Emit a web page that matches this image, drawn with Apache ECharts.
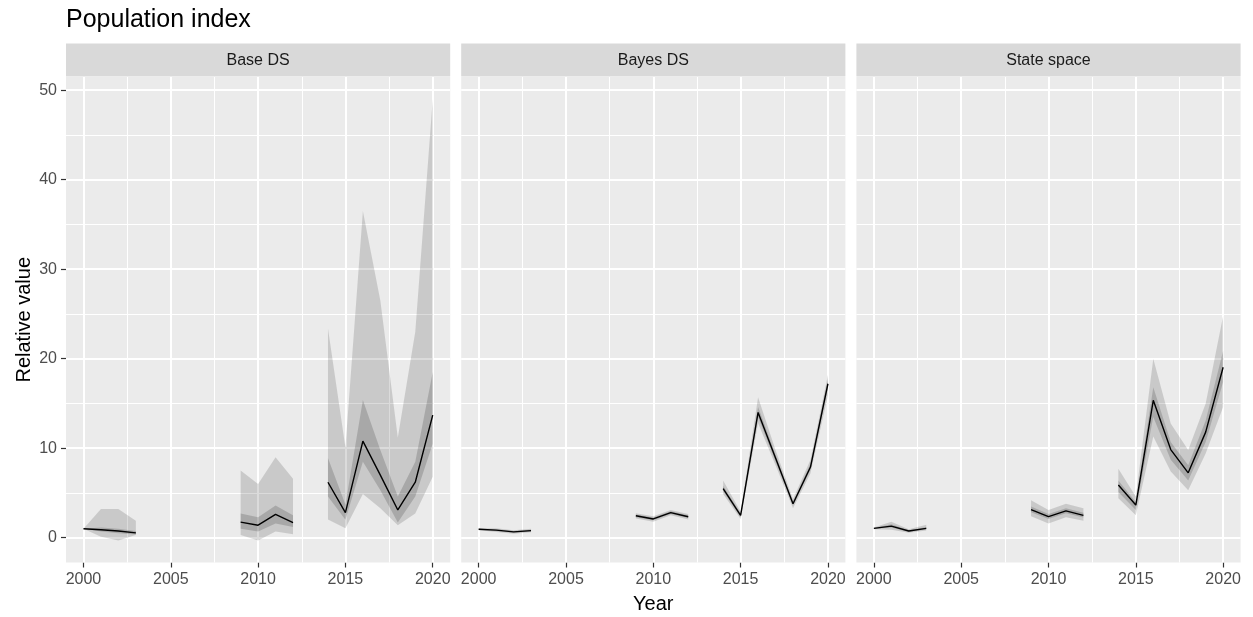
<!DOCTYPE html>
<html>
<head>
<meta charset="utf-8">
<script src="https://cdn.jsdelivr.net/npm/echarts@6/dist/echarts.min.js"></script>
<style>
  html, body { margin: 0; padding: 0; background: #ffffff; }
  #chart { width: 1253px; height: 617px; }
</style>
</head>
<body>
<div id="chart"></div>
<script>
// Survey years 2000-2020; null marks a year without estimates
const years = [2000, 2001, 2002, 2003, 2004, 2005, 2006, 2007, 2008, 2009, 2010,
               2011, 2012, 2013, 2014, 2015, 2016, 2017, 2018, 2019, 2020];
const panels = ['Base DS', 'Bayes DS', 'State space'];
const xTicks = [2000, 2005, 2010, 2015, 2020];
const xMinor = [2002.5, 2007.5, 2012.5, 2017.5];
const yTicks = [0, 10, 20, 30, 40, 50];
const yMinor = [5, 15, 25, 35, 45];

// Base DS: median, inner interval, outer interval
const baseMid   = [1.0, 0.9, 0.75, 0.55, null, null, null, null, null, 1.75, 1.4, 2.6, 1.7, null, 6.2, 2.8, 10.8, 7.0, 3.1, 6.2, 13.7];
const baseInLo  = [1.0, 0.7, 0.5, 0.35, null, null, null, null, null, 1.0, 0.7, 1.6, 1.2, null, 4.6, 2.0, 8.5, 5.3, 1.7, 4.6, 10.5];
const baseInHi  = [1.0, 1.15, 1.0, 0.75, null, null, null, null, null, 2.7, 2.3, 3.6, 2.5, null, 8.9, 3.7, 15.4, 9.8, 4.6, 8.5, 18.5];
const baseOutLo = [1.0, 0.1, -0.3, 0.3, null, null, null, null, null, 0.3, -0.3, 0.7, 0.4, null, 2.05, 1.05, 4.9, 3.3, 1.4, 2.7, 6.8];
const baseOutHi = [1.0, 3.2, 3.2, 1.9, null, null, null, null, null, 7.5, 6.0, 9.0, 6.6, null, 23.4, 10.1, 36.5, 26.5, 11.2, 23.0, 49.0];

// Bayes DS
const bayesMid   = [0.95, 0.85, 0.65, 0.8, null, null, null, null, null, 2.45, 2.1, 2.8, 2.35, null, 5.5, 2.5, 14.0, 8.9, 3.8, 7.9, 17.2];
const bayesInLo  = [0.9, 0.75, 0.55, 0.7, null, null, null, null, null, 2.3, 1.95, 2.65, 2.2, null, 5.2, 2.3, 13.5, 8.5, 3.6, 7.6, 16.7];
const bayesInHi  = [1.0, 0.95, 0.75, 0.9, null, null, null, null, null, 2.6, 2.25, 2.95, 2.5, null, 5.8, 2.7, 14.6, 9.3, 4.0, 8.3, 17.7];
const bayesOutLo = [0.85, 0.65, 0.45, 0.6, null, null, null, null, null, 2.15, 1.8, 2.5, 2.05, null, 4.9, 2.1, 12.8, 8.1, 3.3, 7.2, 15.9];
const bayesOutHi = [1.05, 1.05, 0.85, 1.0, null, null, null, null, null, 2.75, 2.4, 3.1, 2.65, null, 6.4, 2.9, 15.7, 9.8, 4.3, 8.7, 18.2];

// State space
const stateMid   = [1.05, 1.3, 0.75, 1.05, null, null, null, null, null, 3.15, 2.35, 3.0, 2.5, null, 5.9, 3.65, 15.35, 9.85, 7.25, 11.8, 19.05];
const stateInLo  = [1.0, 1.15, 0.65, 0.95, null, null, null, null, null, 2.85, 2.1, 2.75, 2.25, null, 5.1, 3.1, 13.5, 8.7, 6.4, 10.7, 17.4];
const stateInHi  = [1.1, 1.5, 0.85, 1.2, null, null, null, null, null, 3.5, 2.65, 3.3, 2.8, null, 6.4, 4.0, 16.8, 10.7, 8.1, 13.1, 20.9];
const stateOutLo = [0.95, 0.9, 0.55, 0.8, null, null, null, null, null, 2.4, 1.6, 2.3, 1.9, null, 4.4, 2.5, 11.3, 7.4, 5.3, 9.4, 14.6];
const stateOutHi = [1.15, 1.8, 0.95, 1.45, null, null, null, null, null, 4.2, 3.1, 3.8, 3.3, null, 7.7, 4.6, 20.0, 12.75, 9.8, 15.0, 24.8];

const panelData = [
  { mid: baseMid,  inLo: baseInLo,  inHi: baseInHi,  outLo: baseOutLo,  outHi: baseOutHi },
  { mid: bayesMid, inLo: bayesInLo, inHi: bayesInHi, outLo: bayesOutLo, outHi: bayesOutHi },
  { mid: stateMid, inLo: stateInLo, inHi: stateInHi, outLo: stateOutLo, outHi: stateOutHi }
];

const FONT = '"Liberation Sans", Arial, Helvetica, sans-serif';

// shared y range: data extent plus 5% on each side
const allLo = [].concat(baseOutLo, bayesOutLo, stateOutLo).filter(v => v != null);
const allHi = [].concat(baseOutHi, bayesOutHi, stateOutHi).filter(v => v != null);
const dMin = Math.min(...allLo), dMax = Math.max(...allHi);
const yMin = dMin - 0.05 * (dMax - dMin);
const yMax = dMax + 0.05 * (dMax - dMin);

// panel geometry
const gridLeft = [66, 461.2, 856.4];
const gridW = 384.2;
const gridTop = 77;
const gridH = 485.5;

const pairs = arr => years.map((y, i) => [y, arr[i] == null ? '-' : arr[i]]);

// Ribbon between lo and hi: one polygon per run of consecutive years
function bandSeries(p, lo, hi, fill, z) {
  return {
    type: 'custom', xAxisIndex: p, yAxisIndex: p, silent: true, z: z,
    animation: false,
    encode: { x: 0, y: [1, 2] },
    data: years.map((y, i) => [y, lo[i] == null ? '-' : lo[i], hi[i] == null ? '-' : hi[i]]),
    renderItem: function (params, api) {
      const i = params.dataIndex;
      if (lo[i] == null || (i > 0 && lo[i - 1] != null)) return null;
      const upper = [], lower = [];
      for (let k = i; k < years.length && lo[k] != null; k++) {
        upper.push(api.coord([years[k], hi[k]]));
        lower.push(api.coord([years[k], lo[k]]));
      }
      return {
        type: 'polygon',
        shape: { points: upper.concat(lower.reverse()) },
        style: { fill: fill, stroke: null }
      };
    }
  };
}

const grids = [], xAxes = [], yAxes = [], series = [];

panelData.forEach((d, p) => {
  grids.push({
    left: gridLeft[p], top: gridTop, width: gridW, height: gridH,
    show: true, backgroundColor: '#EBEBEB', borderWidth: 0,
    containLabel: false, outerBoundsMode: 'none'
  });

  const xa = {
    gridIndex: p, type: 'value', min: 1999, max: 2021,
    axisLine: { show: false, onZero: false },
    splitLine: { show: false },
    axisTick: { show: true, length: 5, customValues: xTicks, lineStyle: { color: '#333333', width: 1.2 } },
    axisLabel: { customValues: xTicks, color: '#4D4D4D', fontSize: 16, fontFamily: FONT, margin: 9,
                 formatter: v => String(v) }
  };
  if (p === 1) {
    xa.name = 'Year';
    xa.nameLocation = 'middle';
    xa.nameGap = 32;
    xa.nameTextStyle = { fontSize: 20, color: '#000000', fontFamily: FONT };
  }
  xAxes.push(xa);

  const ya = {
    gridIndex: p, type: 'value', min: yMin, max: yMax,
    axisLine: { show: false, onZero: false },
    splitLine: { show: false },
    axisTick: { show: p === 0, length: 5, customValues: yTicks, lineStyle: { color: '#333333', width: 1.2 } },
    axisLabel: { show: p === 0, customValues: yTicks, color: '#4D4D4D', fontSize: 16, fontFamily: FONT, margin: 9,
                 formatter: v => String(v) }
  };
  if (p === 0) {
    ya.name = 'Relative value';
    ya.nameLocation = 'middle';
    ya.nameGap = 32;
    ya.nameRotate = 90;
    ya.nameTextStyle = { fontSize: 20, color: '#000000', fontFamily: FONT };
  }
  yAxes.push(ya);

  series.push(bandSeries(p, d.outLo, d.outHi, 'rgba(0,0,0,0.14)', 2));
  series.push(bandSeries(p, d.inLo, d.inHi, 'rgba(0,0,0,0.16)', 3));

  // median line, carrying the panel grid lines beneath the ribbons
  const gl = [];
  xTicks.forEach(v => gl.push({ xAxis: v, lineStyle: { width: 2 } }));
  xMinor.forEach(v => gl.push({ xAxis: v, lineStyle: { width: 1 } }));
  yTicks.forEach(v => gl.push({ yAxis: v, lineStyle: { width: 2 } }));
  yMinor.forEach(v => gl.push({ yAxis: v, lineStyle: { width: 1 } }));
  series.push({
    type: 'line', xAxisIndex: p, yAxisIndex: p, symbol: 'none', showSymbol: false,
    silent: true, animation: false, connectNulls: false,
    data: pairs(d.mid),
    lineStyle: { color: '#000000', width: 1.4 }, z: 4,
    markLine: {
      silent: true, animation: false, z: 1,
      symbol: ['none', 'none'],
      label: { show: false },
      emphasis: { disabled: true },
      lineStyle: { color: '#FFFFFF', type: 'solid' },
      data: gl
    }
  });
});

// facet strips
const graphic = panels.map((name, p) => ({
  type: 'group', left: gridLeft[p], top: 43.5, silent: true,
  children: [
    { type: 'rect', shape: { x: 0, y: 0, width: gridW, height: 33 }, style: { fill: '#D9D9D9' } },
    { type: 'text', x: gridW / 2, y: 17,
      style: { text: name, fill: '#1A1A1A', fontSize: 16, fontFamily: FONT, align: 'center', verticalAlign: 'middle' } }
  ]
}));

const chart = echarts.init(document.getElementById('chart'), null, { renderer: 'canvas' });
chart.setOption({
  animation: false,
  backgroundColor: '#FFFFFF',
  title: {
    text: 'Population index', left: 61, top: 3,
    textStyle: { fontSize: 25, fontWeight: 'normal', color: '#000000', fontFamily: FONT }
  },
  grid: grids,
  xAxis: xAxes,
  yAxis: yAxes,
  series: series,
  graphic: graphic
});
</script>
</body>
</html>
